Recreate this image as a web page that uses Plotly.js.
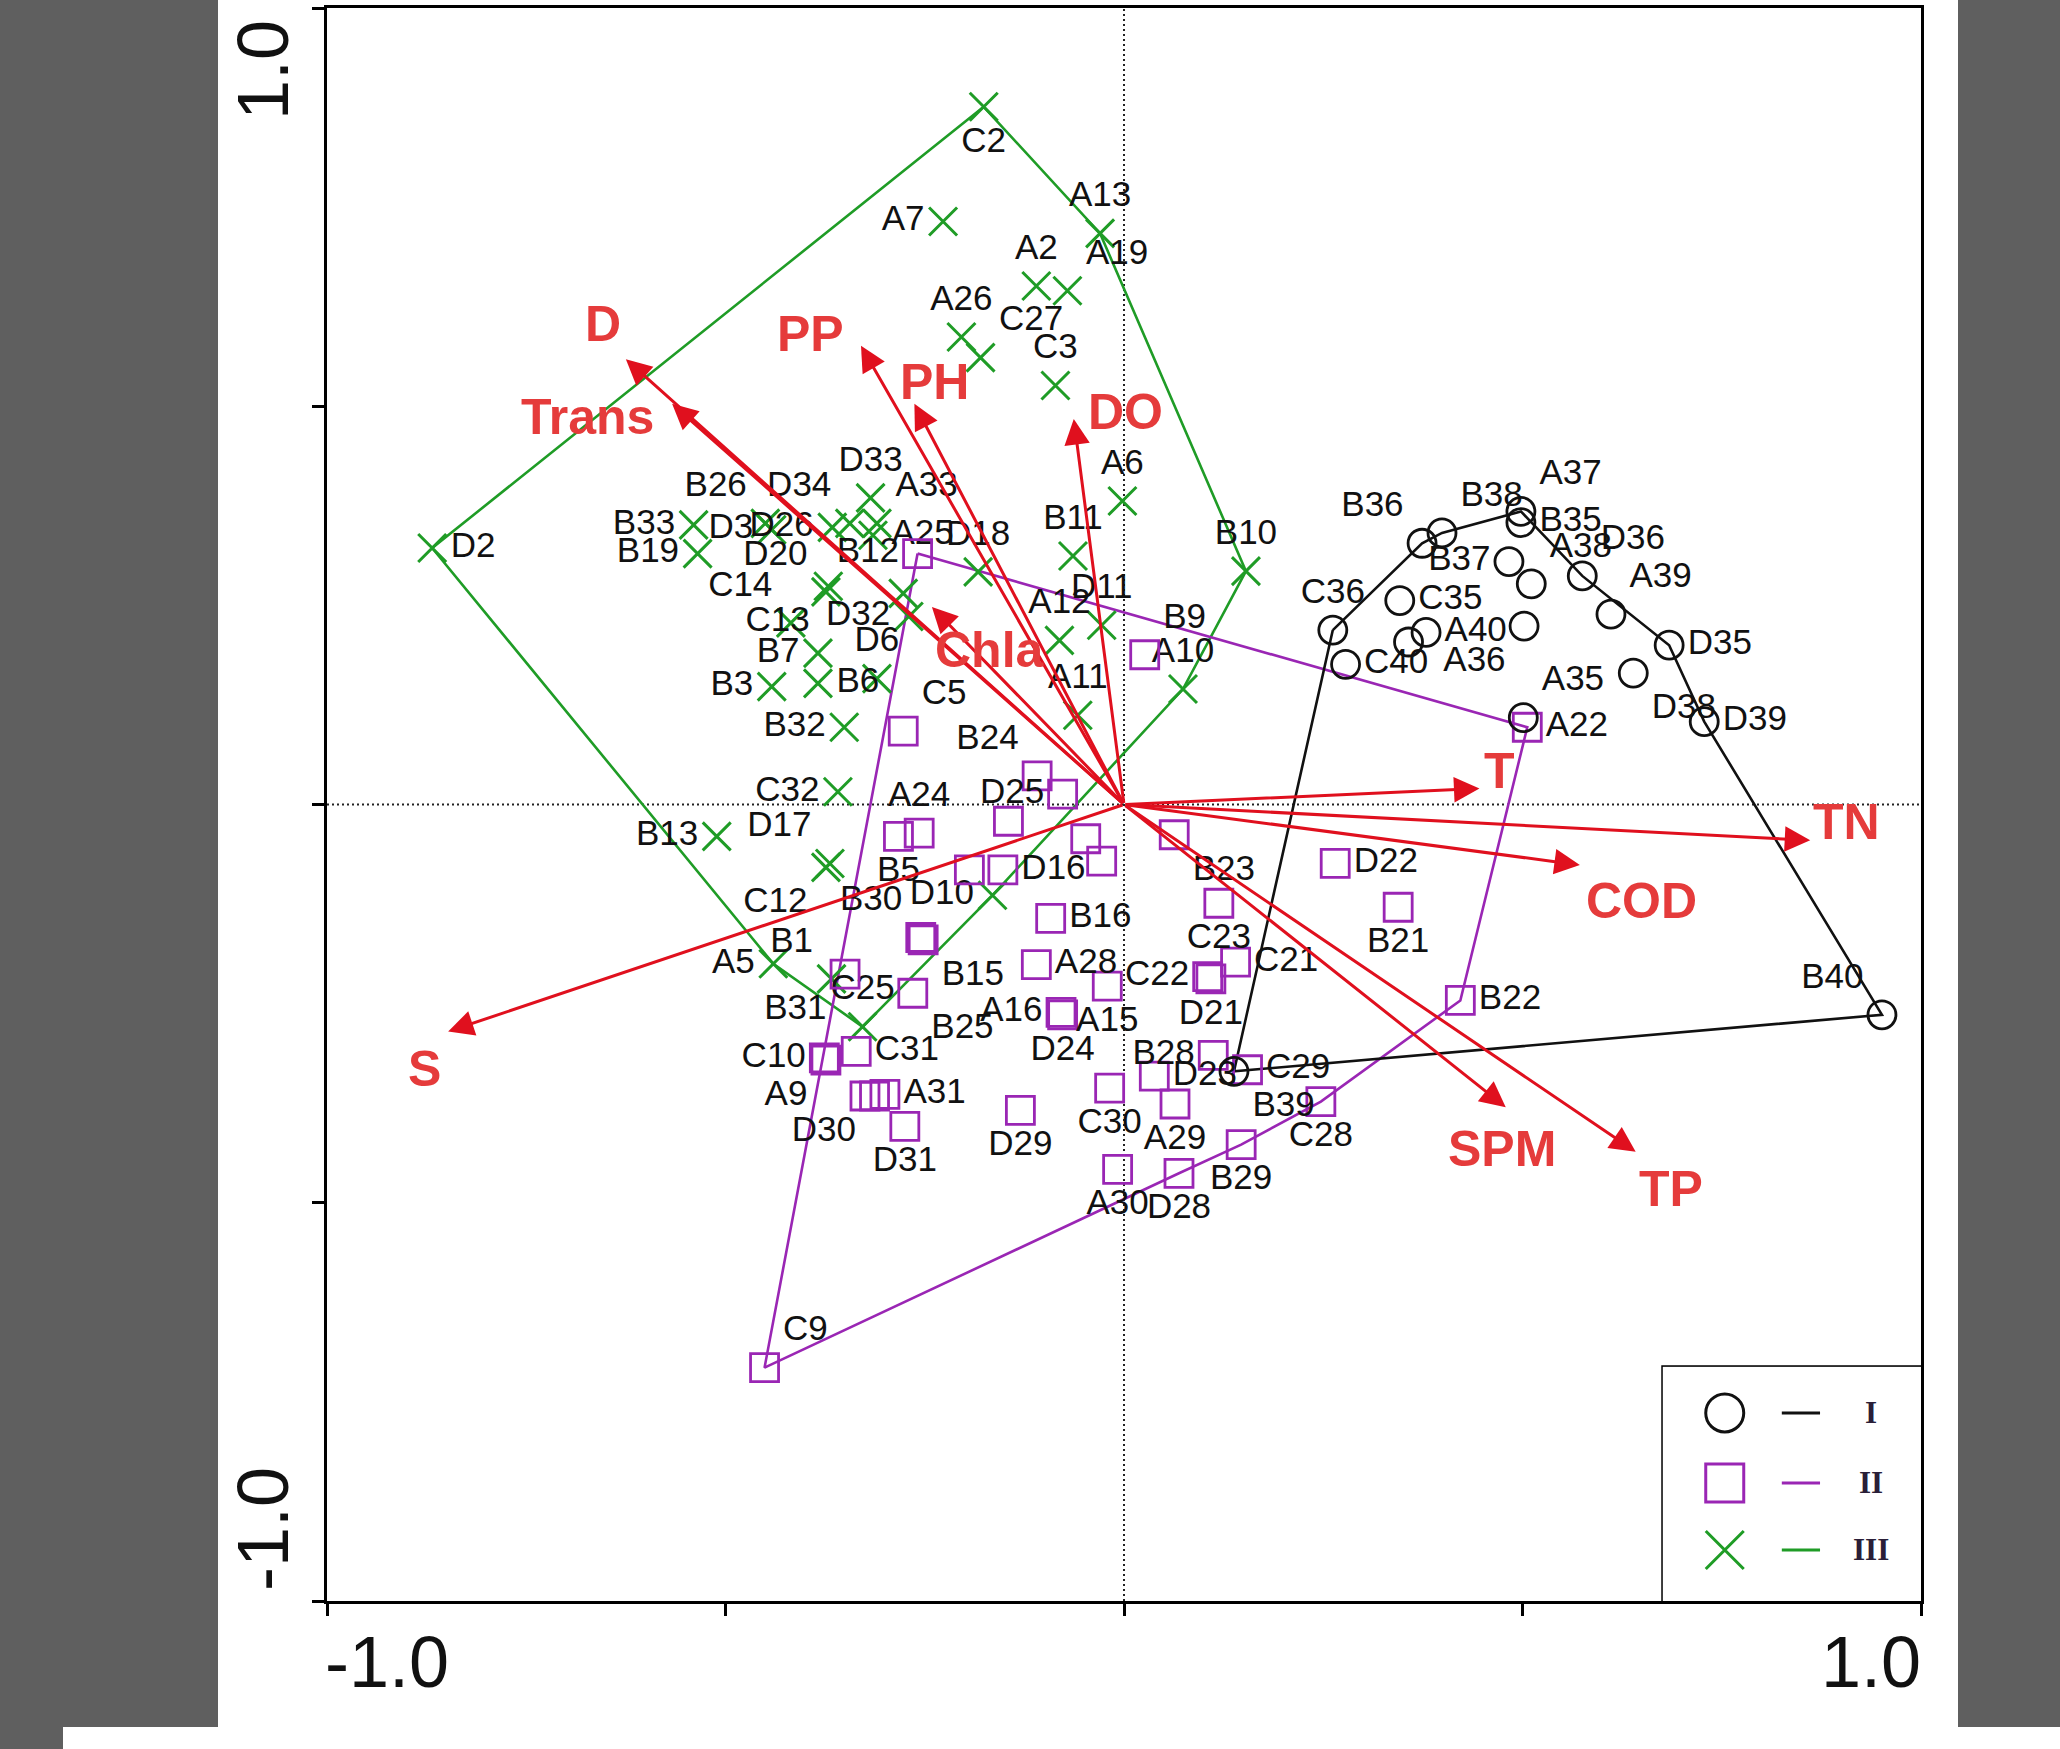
<!DOCTYPE html>
<html><head><meta charset="utf-8">
<script src="https://cdn.plot.ly/plotly-3.0.1.min.js"></script>
<style>
html,body{margin:0;padding:0;background:#fff;width:2060px;height:1749px;overflow:hidden}
#chart{position:absolute;left:0;top:0;width:2060px;height:1749px}
.g{position:absolute;background:#5f5f5f}
</style></head><body>
<div id="chart"></div>
<div class="g" style="left:0;top:0;width:218px;height:1727px"></div>
<div class="g" style="left:1958px;top:0;width:102px;height:1727px"></div>
<div class="g" style="left:0;top:1727px;width:63px;height:22px"></div>
<script>
// ---------- DATA ----------
// Group I (circles)
const groupINames = ['A37','B35','B38','B36','B37','A38','D36','A39','D35','D38','D39','B40','C36','C35','C40','A40','','A36','A35','B39'];
const groupIX = [0.498,0.498,0.399,0.374,0.483,0.511,0.575,0.611,0.684,0.639,0.728,0.951,0.262,0.346,0.278,0.379,0.357,0.502,0.501,0.138];
const groupIY = [0.368,0.354,0.341,0.328,0.305,0.277,0.287,0.239,0.200,0.165,0.104,-0.264,0.219,0.256,0.176,0.216,0.204,0.224,0.109,-0.335];
const groupIHull = ['C36','B36','B38','A37','D36','D35','D39','B40','B39','C36'];

// Group II (squares)
const groupIINames = ['B12','B9','A22','C5','B24','D25','','A24','B5','','','B23','D22','','D16','B30','B15','B16','A28','C22','D21','A15','A16','D24','B25','B31','C23','C21','B28','C29','D23','C30','A29','C28','B29','D28','A30','D29','C31','C10','A9','','D30','A31','D31','C9','B22','B21'];
const groupIIX = [-0.259,0.026,0.506,-0.277,-0.109,-0.077,-0.145,-0.257,-0.283,-0.048,-0.028,0.063,0.265,-0.194,-0.152,-0.255,-0.252,-0.092,-0.110,0.105,0.109,-0.021,-0.079,-0.077,-0.265,-0.350,0.119,0.140,0.112,0.155,0.038,-0.018,0.064,0.247,0.147,0.069,-0.008,-0.130,-0.336,-0.376,-0.374,-0.325,-0.313,-0.300,-0.275,-0.451,0.422,0.344];
const groupIIY = [0.315,0.188,0.097,0.092,0.036,0.013,-0.021,-0.036,-0.040,-0.043,-0.071,-0.038,-0.074,-0.082,-0.082,-0.167,-0.170,-0.143,-0.201,-0.216,-0.219,-0.228,-0.261,-0.264,-0.237,-0.213,-0.124,-0.198,-0.315,-0.333,-0.341,-0.356,-0.376,-0.373,-0.427,-0.463,-0.458,-0.384,-0.310,-0.318,-0.321,-0.366,-0.366,-0.364,-0.404,-0.707,-0.246,-0.129];
const groupIIHull = ['B12','A22','B22','C28','B29','D28','C9','B12'];

// Group III (crosses)
const groupIIINames = ['C2','A7','A13','A2','A19','A26','C27','C3','A6','D2','B33','B19','D3','B26','D26','D34','D33','A33','A25','','D32','D18','B11','B10','D20','C13','D11','A12','A10','A11','C14','B7','B3','B6','D6','B32','C32','B13','D17','C12','D10','A5','B1','C25'];
const groupIIIX = [-0.176,-0.227,-0.030,-0.110,-0.071,-0.204,-0.180,-0.086,-0.002,-0.868,-0.540,-0.535,-0.442,-0.450,-0.366,-0.344,-0.318,-0.310,-0.315,-0.277,-0.270,-0.183,-0.064,0.153,-0.374,-0.371,-0.028,-0.081,0.074,-0.058,-0.418,-0.384,-0.442,-0.384,-0.310,-0.351,-0.359,-0.511,-0.369,-0.374,-0.165,-0.440,-0.367,-0.328];
const groupIIIY = [0.876,0.732,0.717,0.651,0.645,0.587,0.561,0.526,0.381,0.322,0.351,0.315,0.345,0.353,0.348,0.353,0.385,0.353,0.338,0.265,0.236,0.292,0.312,0.293,0.267,0.274,0.225,0.206,0.145,0.112,0.228,0.190,0.148,0.152,0.158,0.097,0.016,-0.040,-0.074,-0.079,-0.114,-0.200,-0.219,-0.279];
const groupIIIHull = ['C2','A13','B10','A10','D10','C25','A5','D2','C2'];

// Environmental variables (arrow tips)
const envNames = ['D','Trans','PP','PH','DO','Chla','T','TN','COD','SPM','TP','S'];
const envX = [-0.625,-0.567,-0.330,-0.263,-0.063,-0.241,0.446,0.861,0.572,0.479,0.642,-0.848];
const envY = [0.559,0.503,0.576,0.503,0.484,0.248,0.020,-0.045,-0.076,-0.380,-0.436,-0.285];

const legendLabels = ['I','II','III'];
const axisTickLabels = ['-1.0','1.0'];

// ---------- STYLE ----------
const posI = ['top right','middle right','top right','top left','middle left','top right','top right','top right','middle right','bottom right','middle right','top left','top center','middle right','middle right','middle right','middle right','bottom left','top right','bottom right'];
const posII = ['middle left','top right','middle right','top right','top left','middle left','top center','top center','bottom center','top center','top center','bottom right','middle right','top center','middle right','top left','bottom right','middle right','middle right','middle left','bottom center','bottom center','middle left','bottom center','bottom right','bottom left','bottom center','middle right','middle left','middle right','middle right','bottom center','bottom center','bottom center','bottom center','bottom center','bottom center','bottom center','middle right','middle left','bottom left','top center','bottom left','middle right','bottom center','top right','middle right','bottom center'];
const posIII = ['bottom center','middle left','top center','top center','top right','top center','top right','top center','top center','middle right','middle left','middle left','middle left','top left','middle left','top left','top center','top right','middle right','middle right','middle left','top center','top center','top center','top left','bottom left','top center','top center','top center','top center','top left','middle left','middle left','middle right','top center','middle left','middle left','middle left','top left','bottom left','middle left','middle left','top left','top center'];
const envShift = {D:[-23,35],Trans:[-85,-13],PP:[-50,12],PH:[20,22],DO:[52,7],Chla:[58,-43],T:[20,18],TN:[36,18],COD:[62,-36],SPM:[-4,-42],TP:[35,-37],S:[-24,-37]};

const BLACK='#111111', PURPLE='#9a26b4', GREEN='#1f9c26', RED='#e0101e', REDTXT='#e53b3b';
const FONT='Liberation Sans, Arial, sans-serif';

function hullPath(names, xs, ys, hull){
  const x=[], y=[];
  hull.forEach(n=>{const i=names.indexOf(n); x.push(xs[i]); y.push(ys[i]);});
  return {x, y};
}

const traces=[];
const hI=hullPath(groupINames,groupIX,groupIY,groupIHull);
const hII=hullPath(groupIINames,groupIIX,groupIIY,groupIIHull);
const hIII=hullPath(groupIIINames,groupIIIX,groupIIIY,groupIIIHull);
traces.push({type:'scatter',mode:'lines',x:hIII.x,y:hIII.y,line:{color:GREEN,width:2.6},hoverinfo:'skip'});
traces.push({type:'scatter',mode:'lines',x:hII.x,y:hII.y,line:{color:PURPLE,width:2.6},hoverinfo:'skip'});
traces.push({type:'scatter',mode:'lines',x:hI.x,y:hI.y,line:{color:BLACK,width:2.6},hoverinfo:'skip'});

const tf={family:FONT,size:35,color:BLACK};
traces.push({type:'scatter',mode:'markers+text',x:groupIIIX,y:groupIIIY,text:groupIIINames,textposition:posIII,textfont:tf,cliponaxis:false,
  marker:{symbol:'x-thin-open',size:28,color:GREEN,line:{color:GREEN,width:3}}});
traces.push({type:'scatter',mode:'markers+text',x:groupIIX,y:groupIIY,text:groupIINames,textposition:posII,textfont:tf,cliponaxis:false,
  marker:{symbol:'square-open',size:28,color:PURPLE,line:{color:PURPLE,width:2.8}}});
traces.push({type:'scatter',mode:'markers+text',x:groupIX,y:groupIY,text:groupINames,textposition:posI,textfont:tf,cliponaxis:false,
  marker:{symbol:'circle-open',size:28,color:BLACK,line:{color:BLACK,width:2.8}}});

// legend glyphs (on separate invisible axes placed in the legend box)
const legSym=['circle-open','square-open','x-thin-open'];
const legCol=[BLACK,PURPLE,GREEN];
const legRowY=[0.803,0.504,0.218];
legendLabels.forEach((l,i)=>{
  traces.push({type:'scatter',mode:'markers',x:[0.24],y:[legRowY[i]],xaxis:'x2',yaxis:'y2',
    marker:{symbol:legSym[i],size:38,color:legCol[i],line:{color:legCol[i],width:3}},hoverinfo:'skip'});
  traces.push({type:'scatter',mode:'lines',x:[0.461,0.609],y:[legRowY[i],legRowY[i]],xaxis:'x2',yaxis:'y2',
    line:{color:legCol[i],width:3},hoverinfo:'skip'});
});

const annotations=[];
envNames.forEach((n,i)=>{
  annotations.push({x:envX[i],y:envY[i],xref:'x',yref:'y',ax:0,ay:0,axref:'x',ayref:'y',text:'',showarrow:true,
    arrowhead:2,arrowsize:1.7,arrowwidth:3,arrowcolor:RED,standoff:0,startstandoff:0});
});
envNames.forEach((n,i)=>{
  const s=envShift[n];
  annotations.push({x:envX[i],y:envY[i],xref:'x',yref:'y',text:'<b>'+n+'</b>',showarrow:false,
    xshift:s[0],yshift:s[1],font:{family:FONT,size:50,color:REDTXT}});
});
legendLabels.forEach((l,i)=>{
  annotations.push({x:0.806,y:legRowY[i],xref:'x2',yref:'y2',text:'<b>'+l+'</b>',showarrow:false,
    font:{family:'Liberation Serif, Times New Roman, serif',size:31,color:'#2a1e38'}});
});
// axis end labels
annotations.push({x:0,y:0,xref:'paper',yref:'paper',xanchor:'left',yanchor:'middle',yshift:-61,xshift:-4,text:axisTickLabels[0],showarrow:false,font:{family:FONT,size:72,color:BLACK}});
annotations.push({x:1,y:0,xref:'paper',yref:'paper',xanchor:'right',yanchor:'middle',yshift:-61,xshift:2,text:axisTickLabels[1],showarrow:false,font:{family:FONT,size:72,color:BLACK}});
annotations.push({x:0,y:1,xref:'paper',yref:'paper',xanchor:'center',yanchor:'top',xshift:-64,yshift:-10,textangle:-90,text:axisTickLabels[1],showarrow:false,font:{family:FONT,size:72,color:BLACK}});
annotations.push({x:0,y:0,xref:'paper',yref:'paper',xanchor:'center',yanchor:'bottom',xshift:-64,yshift:8,textangle:-90,text:axisTickLabels[0],showarrow:false,font:{family:FONT,size:72,color:BLACK}});

const shapes=[
  {type:'line',xref:'x',yref:'paper',x0:0,x1:0,y0:0,y1:1,line:{color:'#222',width:2,dash:'2px,3px'},layer:'below'},
  {type:'line',xref:'paper',yref:'y',x0:0,x1:1,y0:0,y1:0,line:{color:'#222',width:2,dash:'2px,3px'},layer:'below'},
  {type:'rect',xref:'paper',yref:'paper',x0:0.838,x1:1,y0:0,y1:0.147,line:{color:'#000',width:3},fillcolor:'#fff',layer:'below'}
];

const axBase={range:[-1,1],showgrid:false,zeroline:false,showline:true,mirror:true,linecolor:'#000',linewidth:3,
  ticks:'outside',ticklen:12,tickwidth:3,tickcolor:'#000',tickvals:[-1,-0.5,0,0.5,1],showticklabels:false,fixedrange:true};

const layout={
  width:2060,height:1749,autosize:false,
  margin:{l:327,r:139,t:8,b:148},
  paper_bgcolor:'#fff',plot_bgcolor:'#fff',
  showlegend:false,
  font:{family:FONT},
  xaxis:Object.assign({},axBase),
  yaxis:Object.assign({},axBase),
  xaxis2:{domain:[0.838,1],range:[0,1],visible:false,anchor:'y2',fixedrange:true},
  yaxis2:{domain:[0,0.147],range:[0,1],visible:false,anchor:'x2',fixedrange:true},
  shapes:shapes,
  annotations:annotations
};

Plotly.newPlot('chart',traces,layout,{staticPlot:true,displayModeBar:false});
</script>
</body></html>
